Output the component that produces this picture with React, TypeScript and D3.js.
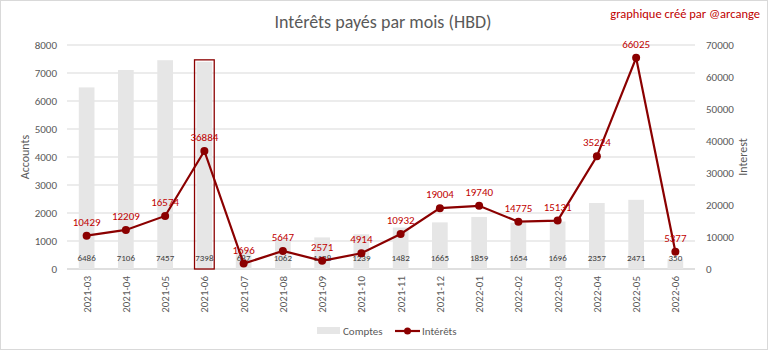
import React from 'react';
import * as d3 from 'd3';

const months = ['2021-03','2021-04','2021-05','2021-06','2021-07','2021-08','2021-09','2021-10','2021-11','2021-12','2022-01','2022-02','2022-03','2022-04','2022-05','2022-06'];
const comptes = [6486, 7106, 7457, 7398, 687, 1062, 1128, 1239, 1482, 1665, 1859, 1654, 1696, 2357, 2471, 350];
const interets = [10429, 12209, 16574, 36884, 1696, 5647, 2571, 4914, 10932, 19004, 19740, 14775, 15131, 35224, 66025, 5377];
const leftTicks = [0, 1000, 2000, 3000, 4000, 5000, 6000, 7000, 8000];
const rightTicks = [0, 10000, 20000, 30000, 40000, 50000, 60000, 70000];
const highlight = '2021-06';

const W = 768, H = 350;
const m = { left: 67, right: 695, top: 45, bottom: 269 };
const font = 'Carlito, Lato, "Open Sans", sans-serif';
const red = '#8b0000';
const labelRed = '#c00000';
const grey = '#595959';

const App = () => {
  const x = d3.scaleBand().domain(months).range([m.left, m.right]).paddingInner(0.6).paddingOuter(0.3);
  const yL = d3.scaleLinear().domain([0, 8000]).range([m.bottom, m.top]);
  const yR = d3.scaleLinear().domain([0, 70000]).range([m.bottom, m.top]);
  const cx = (d) => x(d) + x.bandwidth() / 2;

  const line = d3.line().x((d, i) => cx(months[i])).y((d) => yR(d));

  return (
    <svg width={W} height={H} style={{ position: 'absolute', left: 0, top: 0, fontFamily: font }}>
      <rect x={0.5} y={0.5} width={W - 1} height={H - 1} fill="#fff" stroke="#d9d9d9" />
      <text x={383} y={28} textAnchor="middle" fontSize={18} fill={grey}>Intérêts payés par mois (HBD)</text>
      <text x={760} y={18} textAnchor="end" fontSize={12.5} fill={labelRed}>graphique créé par @arcange</text>

      {leftTicks.map((t) => (
        <g key={t}>
          <line x1={m.left} x2={m.right} y1={yL(t)} y2={yL(t)} stroke={t === 0 ? '#bfbfbf' : '#d9d9d9'} />
          <text x={57} y={yL(t) + 4} textAnchor="end" fontSize={11} fill={grey}>{t}</text>
        </g>
      ))}
      {rightTicks.map((t) => (
        <text key={t} x={706} y={yR(t) + 4} fontSize={11} fill={grey}>{t}</text>
      ))}
      <text transform={`translate(29,${(m.top + m.bottom) / 2}) rotate(-90)`} textAnchor="middle" fontSize={12} fill={grey}>Accounts</text>
      <text transform={`translate(747,${(m.top + m.bottom) / 2}) rotate(-90)`} textAnchor="middle" fontSize={12} fill={grey}>Interest</text>

      {months.map((mo, i) => (
        <g key={mo}>
          <rect x={x(mo)} y={yL(comptes[i])} width={x.bandwidth()} height={m.bottom - yL(comptes[i])} fill="#e6e6e6" />
          {mo === highlight && (
            <rect x={x(mo) - 2} y={yL(comptes[i]) - 2} width={x.bandwidth() + 4} height={m.bottom - yL(comptes[i]) + 2} fill="none" stroke={red} strokeWidth={1.3} />
          )}
          <text x={cx(mo)} y={261} textAnchor="middle" fontSize={9} fill="#404040">{comptes[i]}</text>
          <text transform={`translate(${cx(mo) + 4},276) rotate(-90)`} textAnchor="end" fontSize={11} fill={grey}>{mo}</text>
        </g>
      ))}

      <path d={line(interets)} fill="none" stroke={red} strokeWidth={2.2} />
      {interets.map((v, i) => (
        <g key={i}>
          <circle cx={cx(months[i])} cy={yR(v)} r={4} fill={red} />
          <text x={cx(months[i])} y={yR(v) - 10} textAnchor="middle" fontSize={11} fill={labelRed}>{v}</text>
        </g>
      ))}

      <g transform="translate(317,331)">
        <rect x={0} y={-4} width={23} height={7} fill="#e6e6e6" />
        <text x={26} y={4} fontSize={11} fill={grey}>Comptes</text>
        <line x1={78} x2={103} y1={0} y2={0} stroke={red} strokeWidth={2.2} />
        <circle cx={90.5} cy={0} r={3.5} fill={red} />
        <text x={105} y={4} fontSize={11} fill={grey}>Intérêts</text>
      </g>
    </svg>
  );
};

export default App;
